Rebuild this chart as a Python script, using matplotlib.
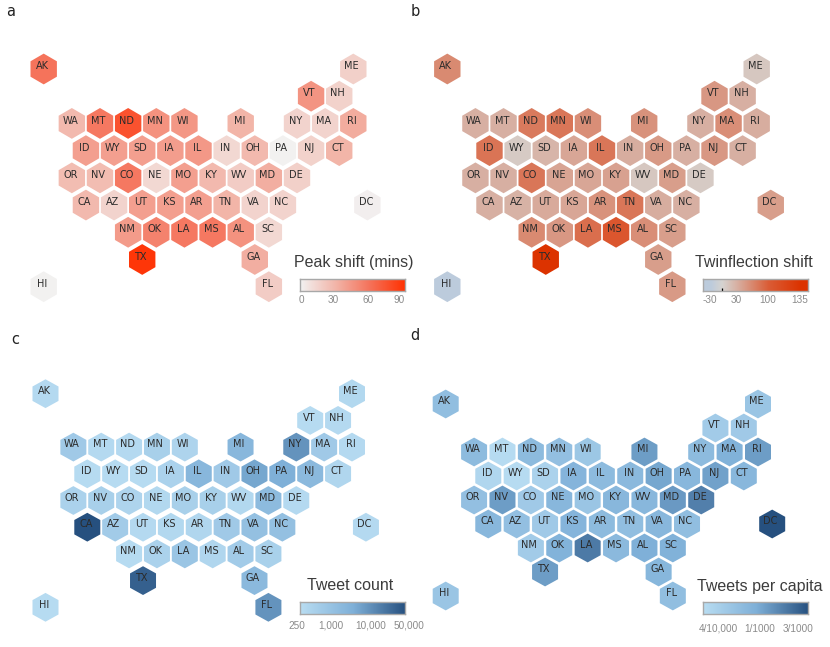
import numpy as np
import matplotlib
matplotlib.use('Agg')
import matplotlib.pyplot as plt
from matplotlib.collections import PolyCollection
from matplotlib.colors import LinearSegmentedColormap, Normalize, LogNorm

W, H = 830, 647

# hex grid: col counts half hexes, row counts rows from the top
states = ['AK', 'ME', 'VT', 'NH',
          'WA', 'MT', 'ND', 'MN', 'WI', 'MI', 'NY', 'MA', 'RI',
          'ID', 'WY', 'SD', 'IA', 'IL', 'IN', 'OH', 'PA', 'NJ', 'CT',
          'OR', 'NV', 'CO', 'NE', 'MO', 'KY', 'WV', 'MD', 'DE',
          'CA', 'AZ', 'UT', 'KS', 'AR', 'TN', 'VA', 'NC', 'DC',
          'NM', 'OK', 'LA', 'MS', 'AL', 'SC',
          'TX', 'GA', 'HI', 'FL']
cols = [0, 22, 19, 21,
        2, 4, 6, 8, 10, 14, 18, 20, 22,
        3, 5, 7, 9, 11, 13, 15, 17, 19, 21,
        2, 4, 6, 8, 10, 12, 14, 16, 18,
        3, 5, 7, 9, 11, 13, 15, 17, 23,
        6, 8, 10, 12, 14, 16,
        7, 15, 0, 16]
rows = [0, 0, 1, 1,
        2, 2, 2, 2, 2, 2, 2, 2, 2,
        3, 3, 3, 3, 3, 3, 3, 3, 3, 3,
        4, 4, 4, 4, 4, 4, 4, 4, 4,
        5, 5, 5, 5, 5, 5, 5, 5, 5,
        6, 6, 6, 6, 6, 6,
        7, 7, 8, 8]

# values, same order as states
peak_shift = [62, 18, 47, 17,
              30, 60, 78, 48, 46, 32, 16, 16, 36,
              42, 42, 42, 43, 45, 14, 30, 1, 17, 32,
              28, 28, 60, 14, 42, 30, 20, 35, 18,
              30, 16, 42, 42, 42, 32, 16, 16, 2,
              44, 55, 60, 60, 48, 14,
              92, 35, 1, 20]
twinflection = [62, 10, 50, 30,
                30, 30, 75, 78, 58, 55, 30, 58, 32,
                80, 8, 25, 38, 78, 32, 48, 30, 50, 30,
                30, 30, 78, 40, 38, 42, 10, 45, 8,
                30, 28, 35, 38, 55, 78, 32, 30, 45,
                62, 50, 85, 105, 58, 45,
                135, 45, -30, 48]
tweet_count = [326, 344, 293, 326,
               802, 326, 326, 553, 424, 2320, 7830, 802, 326,
               293, 293, 293, 472, 2320, 802, 4608, 3536, 2085, 383,
               472, 553, 424, 344, 553, 553, 344, 1872, 326,
               50000, 722, 326, 344, 383, 802, 1362, 1362, 326,
               293, 472, 1046, 383, 722, 524,
               32000, 2085, 293, 7830]
# tweets per 10,000 people
per_capita = [7.8, 6.5, 5.5, 5.8,
              8.4, 3.75, 8.4, 7.5, 6.2, 13.9, 8.4, 10.6, 13.9,
              4.2, 3.75, 4.6, 9.9, 8.4, 8.8, 12.4, 9.2, 13.3, 9.2,
              7.5, 13.9, 5.8, 9.2, 6.5, 9.2, 9.2, 14.6, 19.7,
              9.2, 7.5, 5.8, 9.9, 8.4, 7.8, 9.2, 7.8, 35,
              5.5, 10.3, 21, 8.8, 11.1, 10.6,
              13.9, 9.4, 6.5, 7.8]

# legend ticks, position given as a fraction of the bar
peak_labels = ['0', '30', '60', '90']
peak_ticks = [0.018, 0.316, 0.646, 0.943]
twin_labels = ['-30', '30', '100', '135']
twin_ticks = [0.07, 0.323, 0.62, 0.924]
count_labels = ['250', '1,000', '10,000', '50,000']
count_ticks = [-0.026, 0.297, 0.677, 1.04]
capita_labels = ['4/10,000', '1/1000', '3/1000']
capita_ticks = [0.145, 0.544, 0.905]

reds = LinearSegmentedColormap.from_list('reds', [(0, '#f2f2f2'), (0.33, '#f2b6aa'), (0.66, '#f5725a'), (1, '#ff3000')])
twin = LinearSegmentedColormap.from_list('twin', [(0, '#bccbdc'), (30 / 165, '#d6d3d0'), (1, '#dc3300')])
blues = LinearSegmentedColormap.from_list('blues', ['#b9ddf2', '#7fb0d8', '#26507f'])


def hex_map(fig, x0, x1, y0, y1, half_w, half_h, values, cmap, norm):
    # x0,x1 = pixel x of col 0 and col 22, y0,y1 = pixel y of row 0 and row 8
    ax = fig.add_axes([x0 / W, 1 - y1 / H, (x1 - x0) / W, (y1 - y0) / H])
    ax.set_xlim(0, 22)
    ax.set_ylim(8, 0)
    ax.axis('off')
    w = half_w / ((x1 - x0) / 22)
    h = half_h / ((y1 - y0) / 8)
    shape = np.array([[0, -h], [w, -h / 2], [w, h / 2], [0, h], [-w, h / 2], [-w, -h / 2]])
    polys = [shape + [c, r] for c, r in zip(cols, rows)]
    coll = PolyCollection(polys, facecolors=cmap(norm(np.array(values, dtype=float))),
                          edgecolors='none', clip_on=False)
    ax.add_collection(coll)
    for s, c, r in zip(states, cols, rows):
        ax.annotate(s, (c, r), xytext=(-1.1, 2.0), textcoords='offset points',
                    ha='center', va='center', fontsize=7, color='#2b2b2b',
                    annotation_clip=False)
    return ax


def legend(fig, x0, x1, y0, y1, grad, cmap, ticks, labels, title, title_x, title_y, pad):
    ax = fig.add_axes([x0 / W, 1 - y1 / H, (x1 - x0) / W, (y1 - y0) / H])
    ax.imshow(np.array(grad)[None, :], cmap=cmap, vmin=0, vmax=1, aspect='auto',
              extent=[0, 1, 0, 1])
    ax.set_xticks([])
    ax.set_yticks([])
    for sp in ax.spines.values():
        sp.set_color('#a8a8a8')
        sp.set_linewidth(1.0)
    for t, lab in zip(ticks, labels):
        ax.annotate(lab, (t, 0), xycoords='axes fraction', xytext=(0, -pad),
                    textcoords='offset points', ha='center', va='top',
                    fontsize=7.2, color='#8a8a8a', family='Liberation Sans')
    fig.text(title_x / W, 1 - title_y / H, title, ha='center', va='center',
             fontsize=11.5, color='#3c3c3c', family='Liberation Sans')
    return ax


fig = plt.figure(figsize=(W / 100, H / 100), dpi=100)

hex_map(fig, 43.7, 353.3, 69, 286.7, 13.2, 15.4, peak_shift, reds, Normalize(0, 95))
hex_map(fig, 447.3, 756.7, 69, 286.7, 13.2, 15.4, twinflection, twin, Normalize(-30, 135))
hex_map(fig, 45.5, 352, 393.7, 607.3, 13, 14.4, tweet_count, blues, LogNorm(250, 50000))
hex_map(fig, 445.7, 758, 404, 596, 13, 14.4, per_capita, blues, LogNorm(3.5, 35))

grad = np.linspace(0, 1, 256)
legend(fig, 299.7, 405, 279, 291, grad, reds, peak_ticks, peak_labels,
       'Peak shift (mins)', 354, 263, 3)

# twinflection bar is not linear, 0 sits close to the left end
twin_pos = np.interp(grad, [0.07, 0.18, 0.323, 0.62, 0.924], [-30, 0, 30, 100, 135])
ax_b = legend(fig, 702.7, 808, 279, 291, (twin_pos + 30) / 165, twin, twin_ticks, twin_labels,
              'Twinflection shift', 754, 263, 3)
ax_b.vlines(0.18, 0, 0.22, color='black', linewidth=0.9)
ax_b.set_xlim(0, 1)
ax_b.set_ylim(0, 1)

legend(fig, 299.7, 405, 602, 614, grad, blues, count_ticks, count_labels,
       'Tweet count', 350, 585, 5)
legend(fig, 702.7, 808, 602, 614, grad, blues, capita_ticks, capita_labels,
       'Tweets per capita', 760, 587, 7)

for letter, x, y in [('a', 11, 12), ('b', 415, 12), ('c', 15, 339), ('d', 415, 335)]:
    fig.text(x / W, 1 - y / H, letter, ha='center', va='center', fontsize=10.5, color='#222222')

fig.savefig('out.png', dpi=100)
